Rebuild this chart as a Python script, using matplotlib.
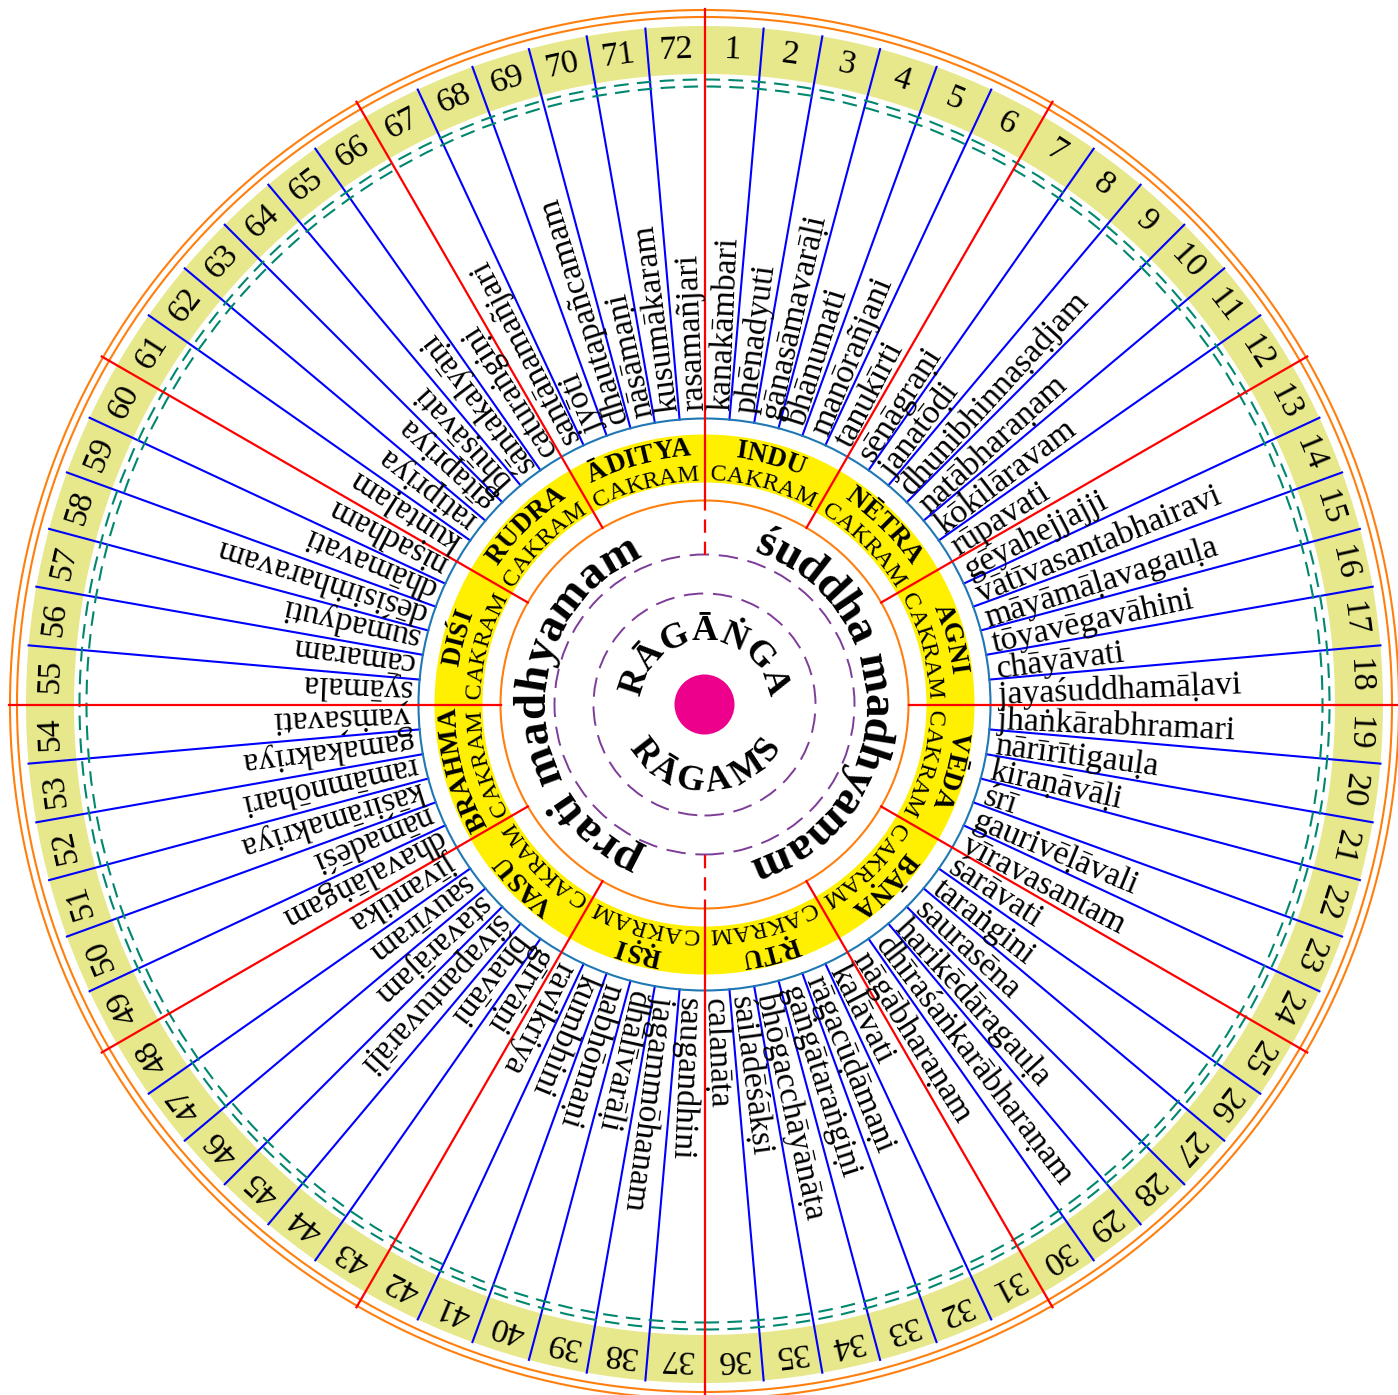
#%%
# melakarta raga wheel
import numpy as np
import matplotlib
matplotlib.use('Agg')
import matplotlib.pyplot as plt
from matplotlib.patches import Circle, Wedge
from matplotlib.font_manager import FontProperties

plt.rcParams['font.family'] = ['Liberation Serif', 'DejaVu Serif']

#%%
# data
ragas = [
    'kanakāmbari', 'phēnadyuti', 'gānasāmavarāḷi', 'bhānumati', 'manōrañjani', 'tanukīrti',
    'sēnāgraṇi', 'janatōḍi', 'dhunibhinnaṣaḍjam', 'naṭābharaṇam', 'kōkilāravam', 'rūpavati',
    'gēyahejjajji', 'vātīvasantabhairavi', 'māyāmāḷavagauḷa', 'tōyavēgavāhini', 'chāyāvati', 'jayaśuddhamāḷavi',
    'jhaṅkārabhramari', 'nārīrītigauḷa', 'kiraṇāvāḷi', 'śrī', 'gaurivēḷāvali', 'vīravasantam',
    'śarāvati', 'taraṅgini', 'saurasēna', 'harikēdāragauḷa', 'dhīraśaṅkarābharaṇam', 'nāgābharaṇam',
    'kalāvati', 'rāgacūḍāmaṇi', 'gaṅgātaraṅgiṇi', 'bhōgacchāyānāṭa', 'śailadēśākṣi', 'calanāṭa',
    'saugandhini', 'jagammōhanam', 'dhālīvarāḷi', 'nabhōmaṇi', 'kumbhini', 'ravikriya',
    'gīrvāṇi', 'bhavāni', 'śivapantuvarāḷi', 'stavarājam', 'sauvīram', 'jīvantika',
    'dhavalāṅgam', 'nāmadēśi', 'kāśirāmakriya', 'ramāmnōhari', 'gamakakriya', 'vaṁśavati',
    'śyāmala', 'cāmaram', 'sumadyuti', 'dēśisiṁharavam', 'dhāmavati', 'niṣadham',
    'kuntaḷam', 'ratipriya', 'gītapriya', 'bhūṣāvati', 'śāntakalyāṇi', 'caturaṅgiṇi',
    'santānamañjari', 'jyōti', 'dhautapañcamam', 'nāsāmaṇi', 'kusumākaram', 'rasamañjari',
]
numbers = [str(i) for i in range(1, 73)]
cakras = ['INDU', 'NĒTRA', 'AGNI', 'VĒDA', 'BĀṆA', 'ṚTU',
          'ṚṢI', 'VASU', 'BRAHMA', 'DIŚI', 'RUDRA', 'ĀDITYA']
cakram_word = 'CAKRAM'
madhyamas = ['śuddha madhyamam', 'prati madhyamam']
centre_top = 'RĀGĀṄGA'
centre_bottom = 'RĀGAMS'

#%%
# figure, 1 data unit = 1 pixel, origin at wheel centre
W, H = 1398, 1395
cx, cy = 704.5, 704.5
fig = plt.figure(figsize=(W / 100, H / 100), dpi=100)
ax = fig.add_axes([0, 0, 1, 1])
ax.set_xlim(-cx, W - cx)
ax.set_ylim(-(H - cy), cy)
ax.set_aspect('equal')
ax.axis('off')
renderer = fig.canvas.get_renderer()

ORANGE = '#ff7f0e'
KHAKI = '#e7e78b'
TEAL = '#00876e'
YELLOW = '#ffef00'
STEEL = '#1f77b4'
PURPLE = '#7d3c98'
MAGENTA = '#ec008c'


def ring(r_out, width, color):
    ax.add_patch(Wedge((0, 0), r_out, 0, 360, width=width, facecolor=color,
                       edgecolor='none', zorder=1))


def circle(r, color, lw=1.5, ls='-', z=3):
    ax.add_patch(Circle((0, 0), r, fill=False, edgecolor=color, lw=lw,
                        linestyle=ls, zorder=z))


def ray(theta, r0, r1, **kw):
    t = np.radians(theta)
    ax.plot([r0 * np.cos(t), r1 * np.cos(t)], [r0 * np.sin(t), r1 * np.sin(t)], **kw)


def text_w(s, fp):
    w, h, d = renderer.get_text_width_height_descent(s, fp, ismath=False)
    return w


def arc_text(s, rb, theta_c, fp, inward=False, r_space=None):
    # rb = baseline radius, inward=False -> letters point outward, reads clockwise
    rs = rb if r_space is None else r_space
    total = text_w(s, fp)
    for i, ch in enumerate(s):
        if ch == ' ':
            continue
        pos = text_w(s[:i + 1], fp) - text_w(ch, fp) / 2
        off = (pos - total / 2) / rs
        if inward:
            t = np.radians(theta_c) + off
            rot = np.degrees(t) + 90
        else:
            t = np.radians(theta_c) - off
            rot = np.degrees(t) - 90
        ax.text(rb * np.cos(t), rb * np.sin(t), ch, fontproperties=fp,
                rotation=rot, rotation_mode='anchor', ha='center', va='baseline', zorder=6)


#%%
# bands and circles
ring(678.5, 48, KHAKI)
ring(270, 48, YELLOW)
circle(694.5, ORANGE)
circle(687.5, ORANGE)
circle(625, TEAL, lw=1.5, ls=(0, (7, 4)))
circle(618, TEAL, lw=1.5, ls=(0, (7, 4)))
circle(286, STEEL)
circle(204, ORANGE)
circle(150, PURPLE, lw=1.4, ls=(0, (10, 5)))
circle(111, PURPLE, lw=1.4, ls=(0, (10, 5)))
ax.add_patch(Circle((0, 0), 30, facecolor=MAGENTA, edgecolor='none', zorder=4))

# raga separators and cakra separators
for i in range(72):
    th = 90 - 5 * i
    if i % 6 == 0:
        ray(th, 204, 696, color='red', lw=1.6, zorder=4)
    else:
        ray(th, 286, 678.5, color='blue', lw=1.5, zorder=2)
for th in (90, -90):
    ray(th, 150, 204, color='red', lw=1.6, ls=(0, (6, 4)), zorder=4)

#%%
# raga names and numbers
fp_name = FontProperties(family=['Liberation Serif', 'DejaVu Serif'], size=24.3)
fp_num = FontProperties(family=['Liberation Serif', 'DejaVu Serif'], size=24.5)
for i, (name, num) in enumerate(zip(ragas, numbers)):
    th = 90 - 5 * i - 2.5
    t = np.radians(th)
    ax.text(294 * np.cos(t), 294 * np.sin(t), name, fontproperties=fp_name,
            rotation=th % 360, rotation_mode='anchor', ha='left', va='center_baseline', zorder=5)
    ax.text(655 * np.cos(t), 655 * np.sin(t), num, fontproperties=fp_num,
            rotation=(th - 90) % 360, rotation_mode='anchor', ha='center', va='center', zorder=5)

# cakra labels
fp_cak = FontProperties(family=['Liberation Serif', 'DejaVu Serif'], size=19.5, weight='bold')
fp_word = FontProperties(family=['Liberation Serif', 'DejaVu Serif'], size=17.5)
for k, cak in enumerate(cakras):
    thc = 90 - 15 - 30 * k
    arc_text(cak, 249, thc, fp_cak)
    arc_text(cakram_word, 224, thc, fp_word)

# madhyamam arcs and centre words
fp_big = FontProperties(family=['Liberation Serif', 'DejaVu Serif'], size=34, weight='bold')
arc_text(madhyamas[0], 160, -1, fp_big, r_space=166)
arc_text(madhyamas[1], 160, 180, fp_big)
fp_mid = FontProperties(family=['Liberation Serif', 'DejaVu Serif'], size=26, weight='bold')
arc_text(centre_top, 64, 90, fp_mid)
arc_text(centre_bottom, 87, -90, fp_mid, inward=True, r_space=74)

fig.savefig('out.png', dpi=100, facecolor='white')
